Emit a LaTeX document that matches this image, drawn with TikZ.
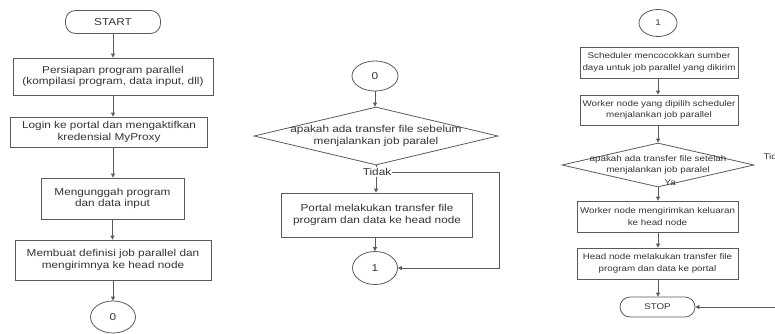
\documentclass[tikz,border=0pt]{standalone}
\usepackage{fontspec}
\setmainfont{Liberation Sans}[FakeStretch=1.18]
\usetikzlibrary{shapes.geometric,arrows.meta}

\definecolor{garis}{HTML}{5A5A5A}
\definecolor{teks}{HTML}{333333}

\begin{document}
\begin{tikzpicture}[x=1pt, y=-1pt,
    every node/.style={text=teks, align=center},
    besar/.style={font=\fontsize{10}{11.7}\selectfont},
    kecil/.style={font=\fontsize{8.3}{11.5}\selectfont},
    proses/.style={draw=garis, line width=0.8pt, inner sep=0pt},
    terminal/.style={draw=garis, line width=0.8pt, inner sep=0pt, rounded corners=10pt},
    konektor/.style={draw=garis, line width=0.8pt, ellipse, inner sep=0pt},
    keputusan/.style={draw=garis, line width=0.8pt, diamond, inner sep=0pt},
    panah/.style={draw=garis, line width=0.8pt, -{Triangle[length=4pt,width=4pt]}}]

    \useasboundingbox (0,0) rectangle (775,333);

    % kolom kiri
    \node [terminal, besar, minimum width=95pt, minimum height=23pt] (start) at (113,22) {START};
    \node [proses, besar, minimum width=200pt, minimum height=37pt] (siap) at (113,76.5)
        {Persiapan program parallel\\(kompilasi program, data input, dll)};
    \node [proses, besar, minimum width=197pt, minimum height=30pt] (login) at (109,132)
        {Login ke portal dan mengaktifkan\\kredensial MyProxy};
    \node [proses, besar, minimum width=143pt, minimum height=41pt] (unggah) at (112.5,198.5)
        {Mengunggah program\\dan data input};
    \node [proses, besar, minimum width=196pt, minimum height=40pt] (buat) at (113,260)
        {Membuat definisi job parallel dan\\mengirimnya ke head node};
    \node [konektor, besar, minimum width=45pt, minimum height=32pt] (nol) at (113,317) {0};

    \draw [panah] (start) -- (siap);
    \draw [panah] (siap.south) -- (siap.south |- login.north);
    \draw [panah] (siap.south |- login.south) -- (siap.south |- unggah.north);
    \draw [panah] (unggah) -- (unggah |- buat.north);
    \draw [panah] (buat) -- (nol);

    % kolom tengah
    \node [konektor, besar, minimum width=46pt, minimum height=30pt] (nolb) at (375,76) {0};
    \node [keputusan, minimum width=244pt, minimum height=58pt] (tanya1) at (376,136) {};
    \node [besar] (tanya1t) at (tanya1) {apakah ada transfer file sebelum\\menjalankan job paralel};
    \node [proses, besar, minimum width=191pt, minimum height=44pt] (portal) at (377,215)
        {Portal melakukan transfer file\\program dan data ke head node};
    \node [konektor, besar, minimum width=45pt, minimum height=33pt] (satu) at (375,268) {1};

    \draw [panah] (nolb) -- (nolb |- tanya1.north);
    \draw [panah] (tanya1.south) -- (tanya1.south |- portal.north);
    \node [besar, fill=white, inner sep=1pt] (tidak1) at (377,172) {Tidak};
    \coordinate (belok1) at (499,172);
    \draw [panah] (tidak1.east) -- (belok1) |- (satu.east);
    \draw [panah] (portal.south -| satu) -- (satu);

    % kolom kanan
    \node [konektor, kecil, minimum width=38pt, minimum height=27pt] (satub) at (658,23) {1};
    \node [proses, kecil, minimum width=158pt, minimum height=31pt] (jadwal) at (659,62.5)
        {Scheduler mencocokkan sumber\\daya untuk job parallel yang dikirim};
    \node [proses, kecil, minimum width=158pt, minimum height=30pt] (worker) at (659,110)
        {Worker node yang dipilih scheduler\\menjalankan job parallel};
    \node [keputusan, minimum width=192pt, minimum height=44pt] (tanya2) at (658,165) {};
    \node [kecil] (tanya2t) at (tanya2) {apakah ada transfer file setelah\\menjalankan job paralel};
    \node [proses, kecil, minimum width=161pt, minimum height=31pt] (kirim) at (657.5,216.5)
        {Worker node mengirimkan keluaran\\ke head node};
    \node [proses, kecil, minimum width=161pt, minimum height=31pt] (head) at (657.5,263.5)
        {Head node melakukan transfer file\\program dan data ke portal};
    \node [terminal, kecil, minimum width=75pt, minimum height=20pt] (stop) at (657.5,307) {STOP};

    \draw [panah] (jadwal.south -| tanya2) -- (worker.north -| tanya2);
    \draw [panah] (worker.south -| tanya2) -- (tanya2);
    \draw [panah] (tanya2.south) -- (tanya2.south |- kirim.north);
    \node [kecil, anchor=west] (ya) at (661,183) {Ya};
    \draw [panah] (kirim.south -| tanya2) -- (head.north -| tanya2);
    \draw [panah] (head.south -| tanya2) -- (stop.north -| tanya2);
    \node [kecil, anchor=west] (tidak2) at (760,157) {Tidak};
    \coordinate (belok2) at (800,157);
    \draw [panah] (tidak2.east) -- (belok2) |- (stop.east);

\end{tikzpicture}
\end{document}
